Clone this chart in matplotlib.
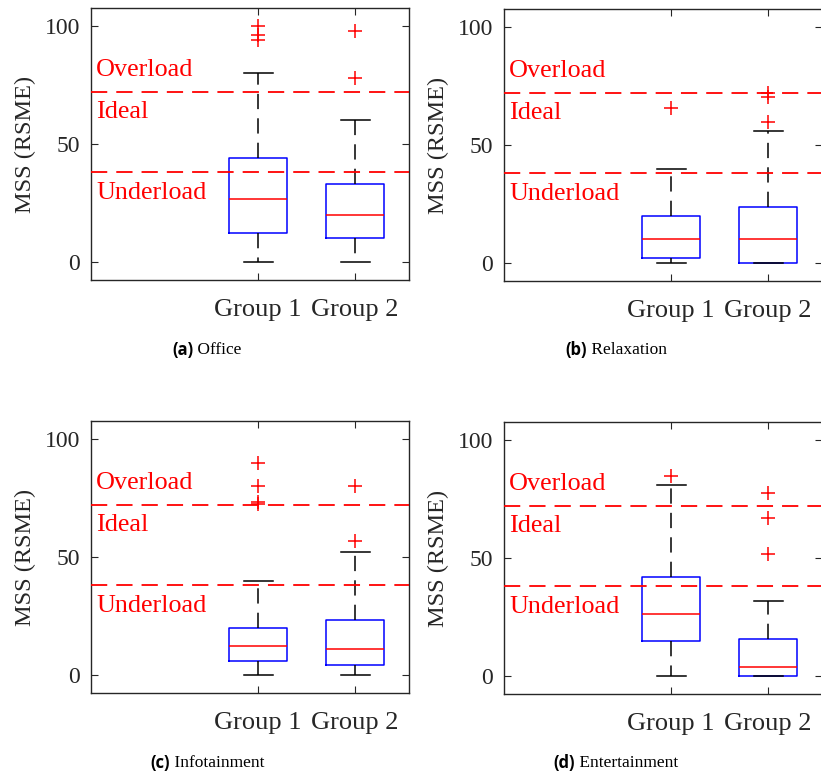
import matplotlib.pyplot as plt
from matplotlib.transforms import blended_transform_factory

# --- data ---
groups = ['Group 1', 'Group 2']
scenes = ['Office', 'Relaxation', 'Infotainment', 'Entertainment']
letters = ['(a)', '(b)', '(c)', '(d)']

whislo = [[0, 0], [0, 0], [0, 0], [0, 0]]
q1 = [[12.3, 10.2], [2.1, 0.0], [6.2, 4.5], [15.1, 0.0]]
med = [[26.7, 20.0], [10.1, 10.1], [12.5, 11.1], [26.5, 3.9]]
q3 = [[44.0, 33.1], [20.0, 23.7], [20.0, 23.5], [41.9, 15.9]]
whishi = [[80.2, 60.2], [39.9, 56.0], [40.1, 52.0], [81.0, 31.9]]
fliers = [
    [[100.1, 96.2, 94.1], [98.0, 77.9]],
    [[65.8], [59.6, 70.2, 72.1]],
    [[90.0, 80.2, 73.3, 72.5], [56.9, 79.9]],
    [[84.9], [51.8, 66.9, 77.6]],
]

overload_line = 72
underload_line = 38
zone_names = ['Overload', 'Ideal', 'Underload']
zone_y = [81.4, 63.7, 29.5]

W, H = 821, 773
fig = plt.figure(figsize=(W / 100, H / 100), dpi=100)

# axes boxes in pixels: left, top, right, bottom
boxes = [(91, 8, 409, 280), (504, 9, 822, 281),
         (91, 421, 409, 693), (504, 422, 822, 694)]
caption_pos = [(207, 350), (616, 350), (207, 763), (616, 763)]

serif = 'Liberation Serif'
grey = '#262626'

for i in range(4):
    l, t, r, b = boxes[i]
    ax = fig.add_axes([l / W, 1 - b / H, (r - l) / W, (b - t) / H])

    stats = []
    for j in range(2):
        stats.append(dict(whislo=whislo[i][j], q1=q1[i][j], med=med[i][j],
                          q3=q3[i][j], whishi=whishi[i][j], fliers=fliers[i][j]))

    ax.bxp(stats, positions=[1, 2], widths=0.6, showfliers=True,
           boxprops=dict(color='blue', linewidth=1.1),
           medianprops=dict(color='red', linewidth=1.1),
           whiskerprops=dict(color='black', linewidth=1.1, linestyle=(0, (10, 6))),
           capprops=dict(color='black', linewidth=1.1),
           flierprops=dict(marker='+', markeredgecolor='red', markersize=10,
                           markeredgewidth=1.1, linestyle='none'))

    # workload thresholds
    for yv in [overload_line, underload_line]:
        ax.axhline(yv, color='red', linewidth=1.3, dashes=(9, 5), zorder=3)

    tr = blended_transform_factory(ax.transAxes, ax.transData)
    for name, yv in zip(zone_names, zone_y):
        ax.text(0.016, yv, name, transform=tr, color='red', va='center',
                ha='left', fontsize=18.8, family=serif)

    ax.set_xlim(-0.725, 2.555)
    ax.set_ylim(-7.5, 107.6)
    ax.set_xticks([1, 2])
    ax.set_xticklabels(groups, fontsize=19, family=serif, color=grey)
    ax.set_yticks([0, 50, 100])
    ax.set_yticklabels(['0', '50', '100'], fontsize=17, family=serif, color=grey)
    ax.tick_params(direction='in', top=True, right=True, length=5,
                   width=0.8, color=grey)
    ax.tick_params(axis='x', pad=14)
    ax.tick_params(axis='y', pad=8)
    ax.set_ylabel('MSS (RSME)', fontsize=17.5, family=serif, color=grey, labelpad=6)
    for s in ax.spines.values():
        s.set_color(grey)
        s.set_linewidth(1.0)

# captions: bold letter + serif name, centred under each column
renderer = fig.canvas.get_renderer()
for i in range(4):
    cx, cy = caption_pos[i]
    t1 = fig.text(0, 1 - cy / H, letters[i], fontsize=12, fontweight='bold',
                  family='Open Sans', va='center', ha='left')
    t2 = fig.text(0, 1 - cy / H, ' ' + scenes[i], fontsize=12.5, family=serif,
                  va='center', ha='left')
    w1 = t1.get_window_extent(renderer).width
    w2 = t2.get_window_extent(renderer).width
    x0 = cx - (w1 + w2) / 2
    t1.set_x(x0 / W)
    t2.set_x((x0 + w1) / W)

fig.savefig('out.png', dpi=100)
